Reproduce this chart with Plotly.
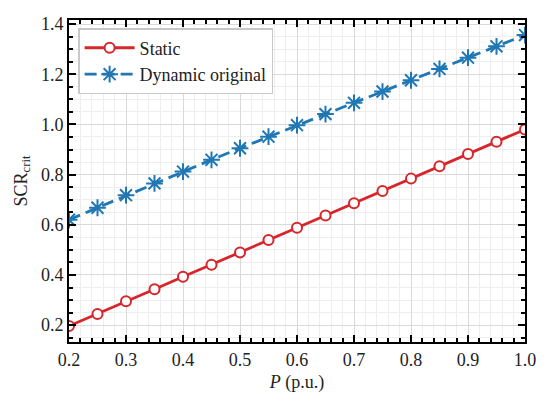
import plotly.graph_objects as go

# data
p = [0.2, 0.25, 0.3, 0.35, 0.4, 0.45, 0.5, 0.55, 0.6, 0.65, 0.7, 0.75, 0.8, 0.85, 0.9, 0.95, 1.0]
scr_static = [0.197, 0.245, 0.295, 0.343, 0.393, 0.441, 0.490, 0.539, 0.588, 0.637, 0.686, 0.735, 0.784, 0.833, 0.882, 0.931, 0.980]
scr_dynamic = [0.620, 0.668, 0.718, 0.765, 0.812, 0.859, 0.905, 0.951, 0.997, 1.041, 1.086, 1.131, 1.176, 1.221, 1.266, 1.311, 1.356]

x_ticks = [0.2, 0.3, 0.4, 0.5, 0.6, 0.7, 0.8, 0.9, 1.0]
y_ticks = [0.2, 0.4, 0.6, 0.8, 1.0, 1.2, 1.4]

red = "#d7262b"
blue = "#1f77b4"
serif = "Liberation Serif"
tfont = dict(family=serif, size=18, color="#222")

fig = go.Figure()
fig.add_trace(go.Scatter(x=p, y=scr_static, name="Static", mode="lines+markers",
                         line=dict(color=red, width=2.8),
                         marker=dict(symbol="circle", size=10, color="white",
                                     line=dict(color=red, width=2))))
fig.add_trace(go.Scatter(x=p, y=scr_dynamic, name="Dynamic original", mode="lines+markers",
                         line=dict(color=blue, width=2.8, dash="12px,6px"),
                         marker=dict(symbol="asterisk-open", size=14,
                                     line=dict(color=blue, width=2))))

ax = dict(showline=True, linecolor="black", linewidth=2, mirror="ticks",
          ticks="inside", ticklen=7, tickwidth=1.5, tickcolor="black",
          showgrid=True, gridcolor="#d9d9d9", zeroline=False, tickfont=tfont)

# page body has an 8px margin, so the figure is a bit smaller than the window
fig.update_layout(
    width=534, height=390, plot_bgcolor="white", paper_bgcolor="white",
    margin=dict(l=61, r=14, t=6, b=56),
    font=dict(family=serif, size=17, color="#222"),
    xaxis=dict(**ax, range=[0.2, 1.0], tickvals=x_ticks, ticktext=[f"{v:.1f}" for v in x_ticks],
               minor=dict(dtick=0.02, ticks="inside", ticklen=4, tickcolor="black",
                          showgrid=True, gridcolor="#eeeeee"),
               title=dict(text="<i>P</i> (p.u.)", font=dict(family=serif, size=18), standoff=7)),
    yaxis=dict(**ax, range=[0.133, 1.416], tickvals=y_ticks, ticktext=[f"{v:.1f}" for v in y_ticks],
               minor=dict(dtick=0.05, ticks="inside", ticklen=4, tickcolor="black",
                          showgrid=True, gridcolor="#eeeeee"),
               title=dict(text="SCR<sub>crit</sub>", font=dict(family=serif, size=18), standoff=9)),
    legend=dict(x=0.02, y=0.975, xanchor="left", yanchor="top",
                bgcolor="white", bordercolor="#c8c8c8", borderwidth=1.5,
                font=dict(family=serif, size=18), tracegroupgap=0, itemwidth=50),
)

fig.write_html("out.html")
